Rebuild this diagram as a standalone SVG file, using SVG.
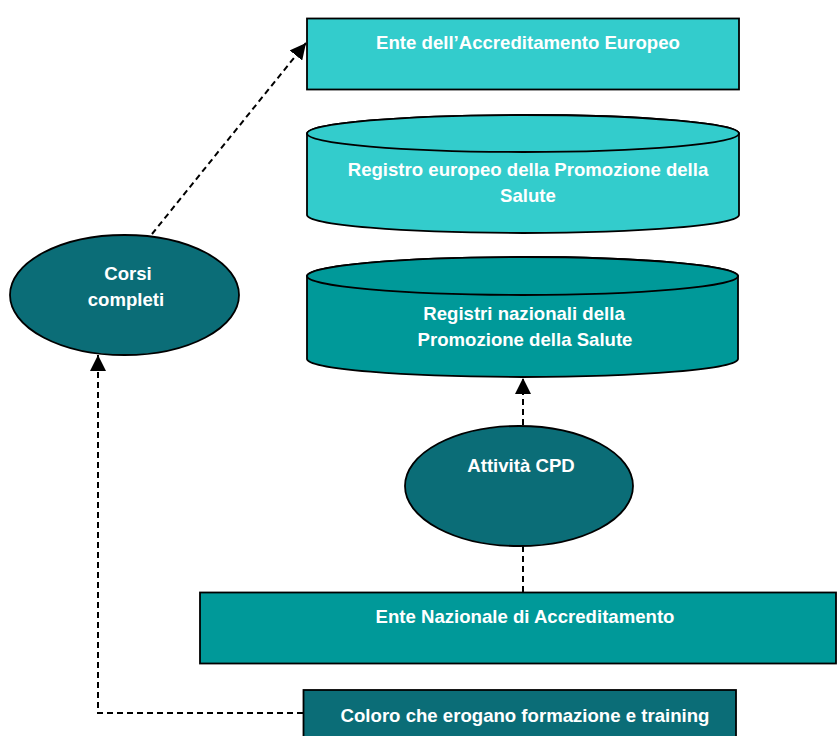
<svg xmlns="http://www.w3.org/2000/svg" width="837" height="736" viewBox="0 0 837 736">
<style>
.lt{fill:#33CCCC;stroke:#000;stroke-width:1.8}
.md{fill:#009999;stroke:#000;stroke-width:1.8}
.dk{fill:#0B6D77;stroke:#000;stroke-width:1.8}
.t{font-family:"Liberation Sans",Arial,sans-serif;font-weight:bold;font-size:18.6px;fill:#fff;text-anchor:middle}
.c{fill:none;stroke:#000;stroke-width:2;stroke-dasharray:6 4}
</style>
<defs>
<marker id="ah" viewBox="0 0 10 10" refX="10" refY="5" markerWidth="8" markerHeight="8" markerUnits="strokeWidth" orient="auto">
<path d="M0,0 L10,5 L0,10 z" fill="#000"/>
</marker>
</defs>
<rect width="837" height="736" fill="#fff"/>
<g id="ente-europeo">
<rect class="lt" x="307" y="18.5" width="432" height="71"/>
<text class="t" x="528" y="49">Ente dell’Accreditamento Europeo</text>
</g>
<g id="registro-europeo">
<path class="lt" d="M307,133.5 L307,215 A216,18 0 0 0 739,215 L739,133.5 A216,18.5 0 0 0 307,133.5 Z"/>
<ellipse class="lt" cx="523" cy="133.5" rx="216" ry="18.5"/>
<text class="t" x="528" y="176">Registro europeo della Promozione della</text>
<text class="t" x="528" y="202">Salute</text>
</g>
<g id="registri-nazionali">
<path class="md" d="M307,276 L307,359 A215.5,18 0 0 0 738,359 L738,276 A215.5,19 0 0 0 307,276 Z"/>
<ellipse class="md" cx="522.5" cy="276" rx="215.5" ry="19"/>
<text class="t" x="524" y="320">Registri nazionali della</text>
<text class="t" x="525" y="346">Promozione della Salute</text>
</g>
<g id="corsi-completi">
<ellipse class="dk" cx="124.5" cy="295" rx="114.5" ry="60"/>
<text class="t" x="128" y="280">Corsi</text>
<text class="t" x="126" y="306">completi</text>
</g>
<g id="attivita-cpd">
<ellipse class="dk" cx="519" cy="486" rx="114" ry="60"/>
<text class="t" x="521" y="472">Attività CPD</text>
</g>
<g id="ente-nazionale">
<rect class="md" x="200" y="592.5" width="636" height="71"/>
<text class="t" x="525" y="623">Ente Nazionale di Accreditamento</text>
</g>
<g id="coloro">
<rect class="dk" x="303.5" y="690" width="432.5" height="50"/>
<text class="t" x="525" y="722">Coloro che erogano formazione e training</text>
</g>
<g id="connectors">
<path class="c" d="M152,234 L306,43" marker-end="url(#ah)"/>
<path class="c" d="M523,425 L523,378" marker-end="url(#ah)"/>
<path class="c" d="M523,546 L523,592"/>
<path class="c" d="M303,713 L98,713 L98,355" marker-end="url(#ah)"/>
</g>
</svg>
